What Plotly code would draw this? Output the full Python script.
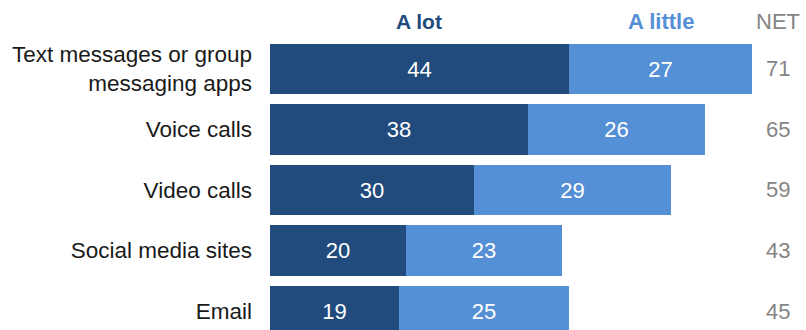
import plotly.graph_objects as go

categories = ["Text messages or group<br>messaging apps", "Voice calls", "Video calls",
              "Social media sites", "Email"]
a_lot = [44, 38, 30, 20, 19]
a_little = [27, 26, 29, 23, 25]
net = [71, 65, 59, 43, 45]

DARK = "#214a7d"
LIGHT = "#558fd5"
GRAY = "#858585"
FONT = "Liberation Sans, Arial, sans-serif"

fig = go.Figure()
for name, vals, color in [("A lot", a_lot, DARK), ("A little", a_little, LIGHT)]:
    fig.add_trace(go.Bar(
        y=categories, x=vals, name=name, orientation="h",
        marker=dict(color=color, line=dict(width=0)),
        width=0.83,
        text=[str(v) for v in vals], textposition="inside",
        insidetextanchor="middle", textangle=0,
        textfont=dict(color="white", size=22, family=FONT),
        hoverinfo="skip",
    ))

# NET column on the right
for cat, v in zip(categories, net):
    fig.add_annotation(x=0.948, xref="paper", y=cat, yref="y", text=str(v),
                       showarrow=False, font=dict(size=22, color=GRAY, family=FONT),
                       xanchor="center", yanchor="middle")

# Column headers
header_y = 1.055
HEAD_FONT = "Liberation Sans Narrow, " + FONT
fig.add_annotation(x=(a_lot[0] / 2), xref="x", y=header_y, yref="paper", text="<b>A lot</b>",
                   showarrow=False, font=dict(size=21, color=DARK, family=HEAD_FONT),
                   xanchor="center", yanchor="middle")
fig.add_annotation(x=a_lot[0] + a_little[0] / 2, xref="x", y=header_y, yref="paper",
                   text="<b>A little</b>", showarrow=False,
                   font=dict(size=22, color=LIGHT, family=HEAD_FONT),
                   xanchor="center", yanchor="middle")
fig.add_annotation(x=0.948, xref="paper", y=header_y, yref="paper", text="NET",
                   showarrow=False, font=dict(size=22, color=GRAY, family=FONT),
                   xanchor="center", yanchor="middle")

fig.update_layout(
    barmode="stack",
    width=806, height=330,
    margin=dict(l=270, r=0, t=38, b=0),
    paper_bgcolor="white", plot_bgcolor="white",
    showlegend=False,
    bargap=0,
    font=dict(family=FONT, color="#1a1a1a"),
    xaxis=dict(range=[0, 78.9], visible=False, fixedrange=True),
    yaxis=dict(type="category", range=[4.314, -0.512], showgrid=False, zeroline=False,
               showline=False, ticks="", ticklabelstandoff=17,
               tickfont=dict(size=22.5, color="#1a1a1a", family=FONT), fixedrange=True),
)

fig.write_html("out.html")
